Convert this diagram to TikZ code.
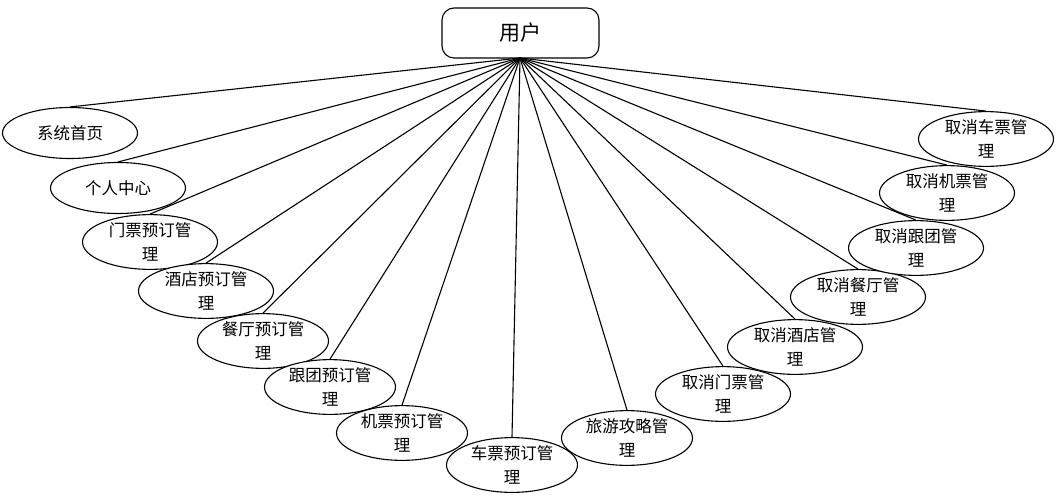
\documentclass[tikz,border=0pt]{standalone}
\usepackage{fontspec}
\newfontfamily\cjk{Noto Sans CJK SC}
\usetikzlibrary{shapes.geometric}
\begin{document}
\begin{tikzpicture}[x=1pt,y=-1pt,
  oval/.style={ellipse,draw,line width=1.1pt,minimum width=135pt,minimum height=51pt,inner sep=0pt,font=\cjk\fontsize{16.5}{24}\selectfont,align=center,fill=white},
  link/.style={line width=1.1pt}]
\useasboundingbox (0,0) rectangle (1063,501);
\node[draw,line width=1.1pt,rounded corners=12pt,minimum width=157pt,minimum height=50pt,font=\cjk\fontsize{21}{24}\selectfont] (user) at (520.5,33) {用户};
\coordinate (apex) at (520,58);
\node[oval] (n1) at (70,133) {系统首页};
\node[oval] (n2) at (118,188) {个人中心};
\node[oval] (n3) at (150,242) {门票预订管\\理};
\node[oval] (n4) at (206,291) {酒店预订管\\理};
\node[oval,minimum width=131pt] (n5) at (263,341) {餐厅预订管\\理};
\node[oval,minimum width=131pt] (n6) at (330,387) {跟团预订管\\理};
\node[oval,minimum width=131pt] (n7) at (402,433) {机票预订管\\理};
\node[oval,minimum width=131pt] (n8) at (512,465) {车票预订管\\理};
\node[oval,minimum width=131pt] (n9) at (627,438) {旅游攻略管\\理};
\node[oval] (m1) at (723,394) {取消门票管\\理};
\node[oval] (m2) at (795,347) {取消酒店管\\理};
\node[oval] (m3) at (858,297) {取消餐厅管\\理};
\node[oval] (m4) at (916,248) {取消跟团管\\理};
\node[oval] (m5) at (947,193) {取消机票管\\理};
\node[oval] (m6) at (986,139) {取消车票管\\理};
\foreach \n in {n1,n2,n3,n4,n5,n6,n7,n8,n9,m1,m2,m3,m4,m5,m6}
  \draw[link] (apex) -- (\n.north);
\end{tikzpicture}
\end{document}
